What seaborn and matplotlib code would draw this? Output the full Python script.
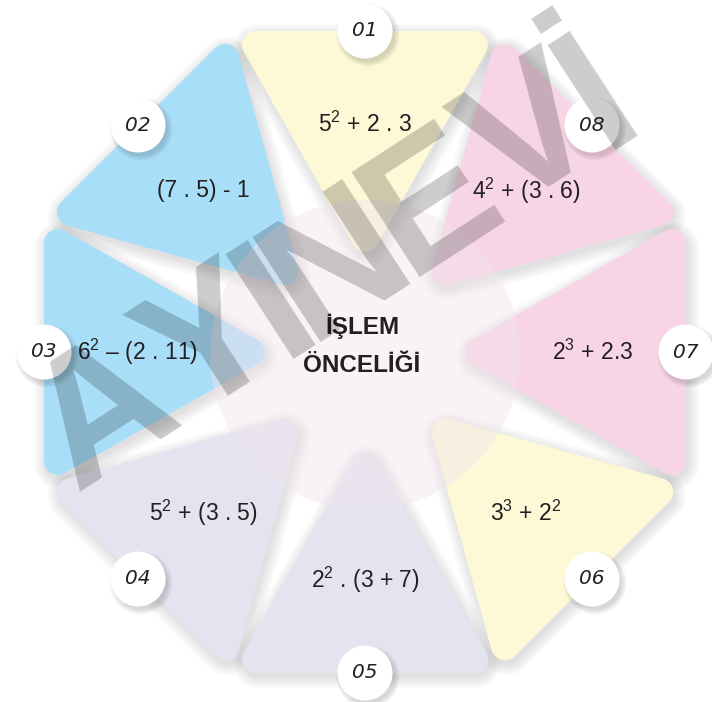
import numpy as np
import matplotlib
matplotlib.use("Agg")
import matplotlib.pyplot as plt
import seaborn as sns
from matplotlib.patches import Polygon, Circle
from matplotlib.textpath import TextPath
from matplotlib.font_manager import FontProperties

# sections, counter-clockwise starting at the top
labels = ["01", "02", "03", "04", "05", "06", "07", "08"]
expressions = [
    "5$^{2}$ + 2 . 3",
    "(7 . 5) - 1",
    "6$^{2}$ – (2 . 11)",
    "5$^{2}$ + (3 . 5)",
    "2$^{2}$ . (3 + 7)",
    "3$^{3}$ + 2$^{2}$",
    "2$^{3}$ + 2.3",
    "4$^{2}$ + (3 . 6)",
]
section_colors = ["#fdf9d7", "#a9def8", "#a9def8", "#e4e4f1",
                  "#e4e4f1", "#fdf9d7", "#f8d5e6", "#f8d5e6"]
title_lines = ["İŞLEM", "ÖNCELİĞİ"]
watermark = "AYINEVİ"

sns.set_theme(style="white")
plt.rcParams["font.family"] = ["Liberation Sans", "DejaVu Sans"]
plt.rcParams["mathtext.fontset"] = "custom"
plt.rcParams["mathtext.rm"] = "Liberation Sans"
plt.rcParams["mathtext.it"] = "Liberation Sans:italic"
plt.rcParams["mathtext.bf"] = "Liberation Sans:bold"
plt.rcParams["mathtext.default"] = "regular"

W, H = 712, 702
cx, cy = 365, 352
apothem = 321
tip = 86
corner = 14
ink = "#231f20"


def pt(angle_deg, r):
    a = np.radians(angle_deg)
    return np.array([cx + r * np.cos(a), cy - r * np.sin(a)])


def rounded_triangle(P, r, grow=0.0):
    P = np.asarray(P, float)
    a = np.linalg.norm(P[1] - P[2])
    b = np.linalg.norm(P[2] - P[0])
    c = np.linalg.norm(P[0] - P[1])
    inc = (a * P[0] + b * P[1] + c * P[2]) / (a + b + c)
    u, v = P[1] - P[0], P[2] - P[0]
    area = 0.5 * abs(u[0] * v[1] - u[1] * v[0])
    rho = area / ((a + b + c) / 2)
    core = inc + (P - inc) * (rho - r) / rho
    pts = []
    for i in range(3):
        prev, cur, nxt = core[i - 1], core[i], core[(i + 1) % 3]
        normals = []
        for p0, p1 in ((prev, cur), (cur, nxt)):
            e = p1 - p0
            n = np.array([e[1], -e[0]]) / np.linalg.norm(e)
            if np.dot(n, (p0 + p1) / 2 - inc) < 0:
                n = -n
            normals.append(n)
        a1 = np.arctan2(normals[0][1], normals[0][0])
        a2 = np.arctan2(normals[1][1], normals[1][0])
        d = (a2 - a1 + np.pi) % (2 * np.pi) - np.pi
        for t in a1 + np.linspace(0, d, 14):
            pts.append(cur + (r + grow) * np.array([np.cos(t), np.sin(t)]))
    return np.array(pts)


fig = plt.figure(figsize=(W / 100, H / 100), dpi=100)
ax = fig.add_axes([0, 0, 1, 1])
ax.set_xlim(0, W)
ax.set_ylim(H, 0)
ax.axis("off")

r_vert = apothem / np.cos(np.radians(22.5))
for k, (lab, expr, col) in enumerate(zip(labels, expressions, section_colors)):
    theta = 90 + 45 * k
    tri = [pt(theta - 22.5, r_vert), pt(theta + 22.5, r_vert), pt(theta, tip)]

    # soft shadow
    for g in range(5):
        sh = rounded_triangle(tri, corner, grow=1 + 2.5 * g) + np.array([2, 4])
        ax.add_patch(Polygon(sh, closed=True, color="black", alpha=0.025,
                             lw=0, zorder=1))
    ax.add_patch(Polygon(rounded_triangle(tri, corner), closed=True,
                         color=col, lw=0, zorder=2))

    # numbered badge
    bx, by = pt(theta, apothem)
    for g in range(4):
        ax.add_patch(Circle((bx + 3, by + 4), 27 + 1.5 * g, color="black",
                            alpha=0.04, lw=0, zorder=4))
    ax.add_patch(Circle((bx, by), 27.5, color="white", lw=0, zorder=5))
    ax.text(bx, by, lab, ha="center", va="center", fontsize=14.5,
            family="DejaVu Sans", style="italic", color=ink, zorder=6)

    # expression
    ex, ey = pt(theta, 228)
    ax.text(ex, ey, expr, ha="center", va="center", fontsize=16.5,
            color=ink, zorder=6)

# centre disc
ax.add_patch(Circle((cx, cy + 3), 155, color="#f3e4ec", alpha=0.45, lw=0,
                    zorder=3))
for i, line in enumerate(title_lines):
    ax.text(cx - 3, 326 + 39 * i, line, ha="center", va="center",
            fontsize=17.5, weight="bold", color=ink, zorder=6)

# watermark, one letter at a time along a rising line, tightly spaced
wm_rot = 33
wm_size = 131
wm_prop = FontProperties(family="Liberation Sans", weight="bold")
em_px = wm_size * 100 / 72
widths = np.array([TextPath((0, 0), ch, size=1, prop=wm_prop).get_extents().width
                   for ch in watermark]) * em_px
steps = (widths[:-1] + widths[1:]) / 2
centres = np.concatenate([[0], np.cumsum(steps)])
start, end = np.array([95.0, 402.0]), np.array([590.0, 82.0])
along = (end - start) / np.linalg.norm(end - start)
centres = centres / centres[-1] * np.linalg.norm(end - start)
down = np.array([np.sin(np.radians(wm_rot)), np.cos(np.radians(wm_rot))])
cap_half = 0.716 * em_px / 2
for ch, s in zip(watermark, centres):
    c = start + along * s + down * cap_half
    ax.text(c[0], c[1], ch, rotation=wm_rot, rotation_mode="anchor",
            ha="center", va="baseline", fontsize=wm_size, weight="bold",
            color="black", alpha=0.2, zorder=10)

fig.savefig("out.png", dpi=100, facecolor="white")
